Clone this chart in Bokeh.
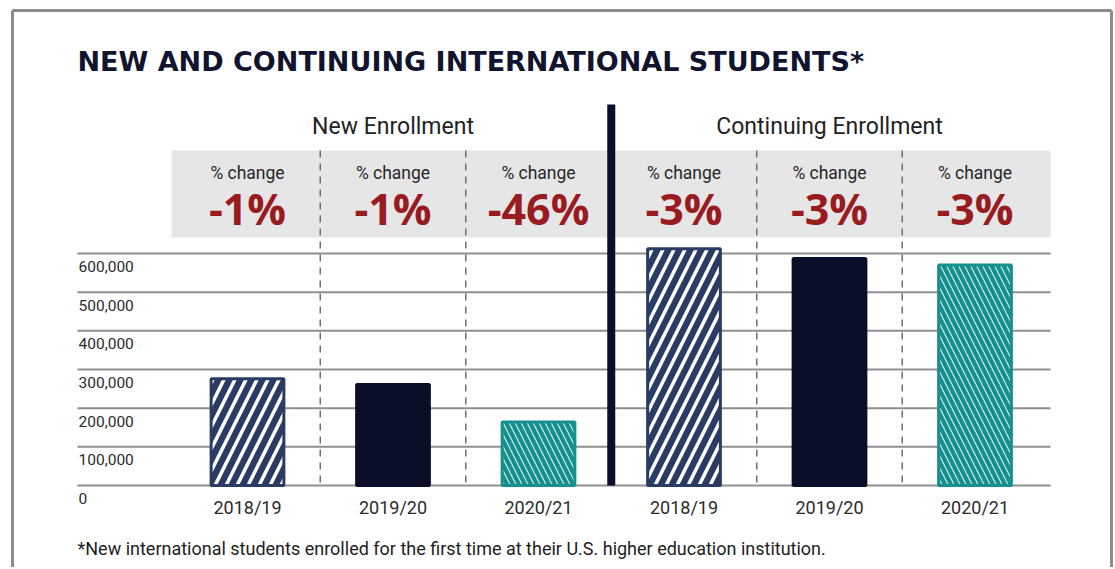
from bokeh.plotting import figure
from bokeh.models import Range1d
from bokeh.core.properties import value
from bokeh.embed import file_html
from bokeh.resources import INLINE

# ---------------- data ----------------
title_text = "NEW AND CONTINUING INTERNATIONAL STUDENTS*"
footnote_text = ("*New international students enrolled for the first time at their "
                 "U.S. higher education institution.")
group_names = ["New Enrollment", "Continuing Enrollment"]
years = ["2018/19", "2019/20", "2020/21"]
new_enrollment = [276000, 261000, 164000]
continuing_enrollment = [612000, 587000, 570000]
change_label = "% change"
new_pct_change = ["-1%", "-1%", "-46%"]
continuing_pct_change = ["-3%", "-3%", "-3%"]
y_ticks = [0, 100000, 200000, 300000, 400000, 500000, 600000]
y_tick_labels = ["0", "100,000", "200,000", "300,000", "400,000", "500,000", "600,000"]

# ---------------- layout helpers (page pixels -> data space) ----------------
W, H = 1113, 567
X0_PX, COL_PX = 247.0, 145.5          # centre of first column, column width
Y0_PX, Y_PER_PX = 485.0, 600000 / 232.0


def X(px):
    return (px - X0_PX) / COL_PX


def Y(py):
    return (Y0_PX - py) * Y_PER_PX


n = len(years)
all_x = list(range(2 * n))
new_x = all_x[:n]
cont_x = all_x[n:]

p = figure(width=W, height=H, output_backend="svg", toolbar_location=None,
           x_range=Range1d(X(0), X(W)), y_range=Range1d(Y(H), Y(0)),
           x_axis_location=None, y_axis_location=None, min_border=0)
p.grid.visible = False
p.outline_line_color = None
p.background_fill_color = "white"
p.border_fill_color = "white"

# outer frame
p.segment(x0=[X(12), X(12), X(1111)], y0=[Y(10), Y(10), Y(10)],
          x1=[X(1111), X(12), X(1111)], y1=[Y(10), Y(600), Y(600)],
          line_color="#8c8c8c", line_width=3)

# title
p.text(x=[X(77)], y=[Y(61)], text=[title_text], text_font=value("DejaVu Sans"),
       text_font_style="bold", text_font_size="27px", text_color="#10142f",
       text_align="left", text_baseline="middle")

# group headers
p.text(x=[(new_x[0] + new_x[-1]) / 2, (cont_x[0] + cont_x[-1]) / 2], y=[Y(126)] * 2,
       text=group_names, text_font=value("Roboto"), text_font_size="23px",
       text_color="#222222", text_align="center", text_baseline="middle")

# grey change box
p.quad(left=[X(171)], right=[X(1050)], top=[Y(150)], bottom=[Y(237)],
       fill_color="#e6e6e7", line_color=None)

p.text(x=all_x, y=[Y(172)] * len(all_x), text=[change_label] * len(all_x),
       text_font=value("Roboto"), text_font_size="17.5px", text_color="#262626",
       text_align="center", text_baseline="middle")
p.text(x=all_x, y=[Y(208)] * len(all_x), text=new_pct_change + continuing_pct_change,
       text_font=value("Open Sans"), text_font_style="bold", text_font_size="43px",
       text_color="#981b1f", text_align="center", text_baseline="middle")

# gridlines
p.segment(x0=[X(77)] * len(y_ticks), x1=[X(1050)] * len(y_ticks),
          y0=y_ticks, y1=y_ticks, line_color="#8f8f8f", line_width=2)

# dashed column separators
sep_x = [v + 0.5 for v in new_x[:-1]] + [v + 0.5 for v in cont_x[:-1]]
p.segment(x0=sep_x, x1=sep_x, y0=[Y(150)] * len(sep_x), y1=[0] * len(sep_x),
          line_color="#6f6f6f", line_width=1.5, line_dash="7 6")

# y tick labels (under each gridline)
p.text(x=[X(78)] * len(y_ticks), y=y_ticks, y_offset=13, text=y_tick_labels,
       text_font=value("Roboto"), text_font_size="15.5px", text_color="#2b2b2b",
       text_align="left", text_baseline="middle")

# bars
bar_w = 0.5
styles = [
    dict(fill_color="#2b3c64", line_color="#2b3c64", hatch_pattern="/",
         hatch_color="white", hatch_weight=3.5, hatch_scale=22),
    dict(fill_color="#0a0e28", line_color="#0a0e28"),
    dict(fill_color="#15908e", line_color="#15908e", hatch_pattern="\\",
         hatch_color="white", hatch_weight=1.1, hatch_scale=12, hatch_alpha=0.85),
]
for i in range(n):
    p.vbar(x=[new_x[i], cont_x[i]], top=[new_enrollment[i], continuing_enrollment[i]],
           bottom=0, width=bar_w, line_width=3, **styles[i])

# thick divider between groups
mid = (new_x[-1] + cont_x[0]) / 2
p.segment(x0=[mid], x1=[mid], y0=[Y(104)], y1=[0], line_color="#0b0f2a", line_width=8)

# category labels
p.text(x=all_x, y=[0] * len(all_x), y_offset=22, text=years + years,
       text_font=value("Roboto"), text_font_size="18px", text_color="#2b2b2b",
       text_align="center", text_baseline="middle")

# footnote
p.text(x=[X(77)], y=[Y(548)], text=[footnote_text], text_font=value("Roboto"),
       text_font_size="18px", text_color="#1e1e1e", text_align="left",
       text_baseline="middle")

open("out.html", "w").write(file_html(p, INLINE))
